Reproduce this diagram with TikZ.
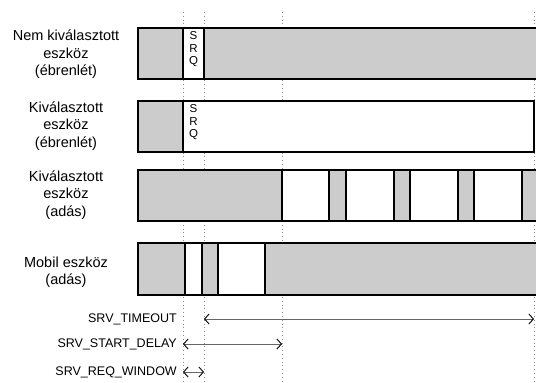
\documentclass[tikz,border=0pt]{standalone}
\usepackage{fontspec}
\setmainfont{Liberation Sans}
\usetikzlibrary{arrows.meta}
\definecolor{barfill}{HTML}{CCCCCC}
\tikzset{
  bar/.style={line width=1.4pt, draw=black},
  graybox/.style={fill=barfill},
  whitebox/.style={fill=white},
  guide/.style={line width=0.7pt, draw=black!45, dash pattern=on 0.8pt off 3pt},
  rowlabel/.style={align=center, font=\fontsize{14.5}{17.5}\selectfont, inner sep=0pt},
  srq/.style={align=center, font=\fontsize{11.5}{12.8}\selectfont, inner sep=0pt, anchor=north},
  timelabel/.style={anchor=east, font=\fontsize{12.5}{14}\selectfont, inner sep=0pt},
  span/.style={line width=0.8pt, draw=black!60, {Straight Barb[length=4.5pt,width=10pt,black,line width=0.9pt]}-{Straight Barb[length=4.5pt,width=10pt,black,line width=0.9pt]}}
}
\begin{document}
\begin{tikzpicture}[x=1pt,y=-1pt]
\useasboundingbox (0,0) rectangle (536,383);
% guide coordinates
\coordinate (g1) at (183,12);
\coordinate (g2) at (204,12);
\coordinate (g3) at (282,12);
\coordinate (g4) at (534,12);
\coordinate (b1) at (183,383);
\coordinate (b2) at (204,383);
\coordinate (b3) at (282,383);
\coordinate (b4) at (534,383);
\draw[guide] (g1) -- (b1);
\draw[guide] (g2) -- (b2);
\draw[guide] (g3) -- (b3);
\draw[guide] (g4) -- (b4);

% Row 1
\fill[graybox] (138,28) rectangle (537,79);
\fill[whitebox] (183,28) rectangle (204,79);
\draw[bar] (537,28) -- (138,28) -- (138,79) -- (537,79);
\draw[bar] (183,28) -- (183,79) (204,28) -- (204,79);
\node[srq] (srq1) at (193.5,31) {S\\R\\Q};

% Row 2
\fill[graybox] (138,101) rectangle (183,152);
\fill[whitebox] (183,101) rectangle (534,152);
\draw[bar] (138,101) rectangle (534,152);
\draw[bar] (183,101) -- (183,152);
\node[srq] (srq2) at (193.5,104) {S\\R\\Q};

% Row 3
\fill[graybox] (138,170) rectangle (537,221);
\foreach \a/\b in {282/329,346/394,410/458,474/522}{
  \fill[whitebox] (\a,170) rectangle (\b,221);
  \draw[bar] (\a,170) -- (\a,221) (\b,170) -- (\b,221);
}
\draw[bar] (537,170) -- (138,170) -- (138,221) -- (537,221);

% Row 4
\fill[graybox] (138,243) rectangle (537,295);
\fill[whitebox] (185,243) rectangle (202,295);
\fill[whitebox] (218,243) rectangle (265,295);
\draw[bar] (185,243) -- (185,295) (202,243) -- (202,295)
           (218,243) -- (218,295) (265,243) -- (265,295);
\draw[bar] (537,243) -- (138,243) -- (138,295) -- (537,295);

% Row labels
\node[rowlabel] (l1) at (66,54.5) {Nem kiválasztott\\eszköz\\(ébrenlét)};
\node[rowlabel] (l2) at (66,126) {Kiválasztott\\eszköz\\(ébrenlét)};
\node[rowlabel] (l3) at (66,195) {Kiválasztott\\eszköz\\(adás)};
\node[rowlabel] (l4) at (66,272) {Mobil eszköz\\(adás)};

% Time spans
\coordinate (t1a) at (204,319);
\coordinate (t1b) at (534,319);
\coordinate (t2a) at (183,344);
\coordinate (t2b) at (282,344);
\coordinate (t3a) at (183,372);
\coordinate (t3b) at (204,372);
\draw[span] (t1a) -- (t1b);
\draw[span] (t2a) -- (t2b);
\draw[span] (t3a) -- (t3b);
\node[timelabel] (n1) at (177,319) {SRV\_TIMEOUT};
\node[timelabel] (n2) at (177,344) {SRV\_START\_DELAY};
\node[timelabel] (n3) at (177,372) {SRV\_REQ\_WINDOW};
\end{tikzpicture}
\end{document}
